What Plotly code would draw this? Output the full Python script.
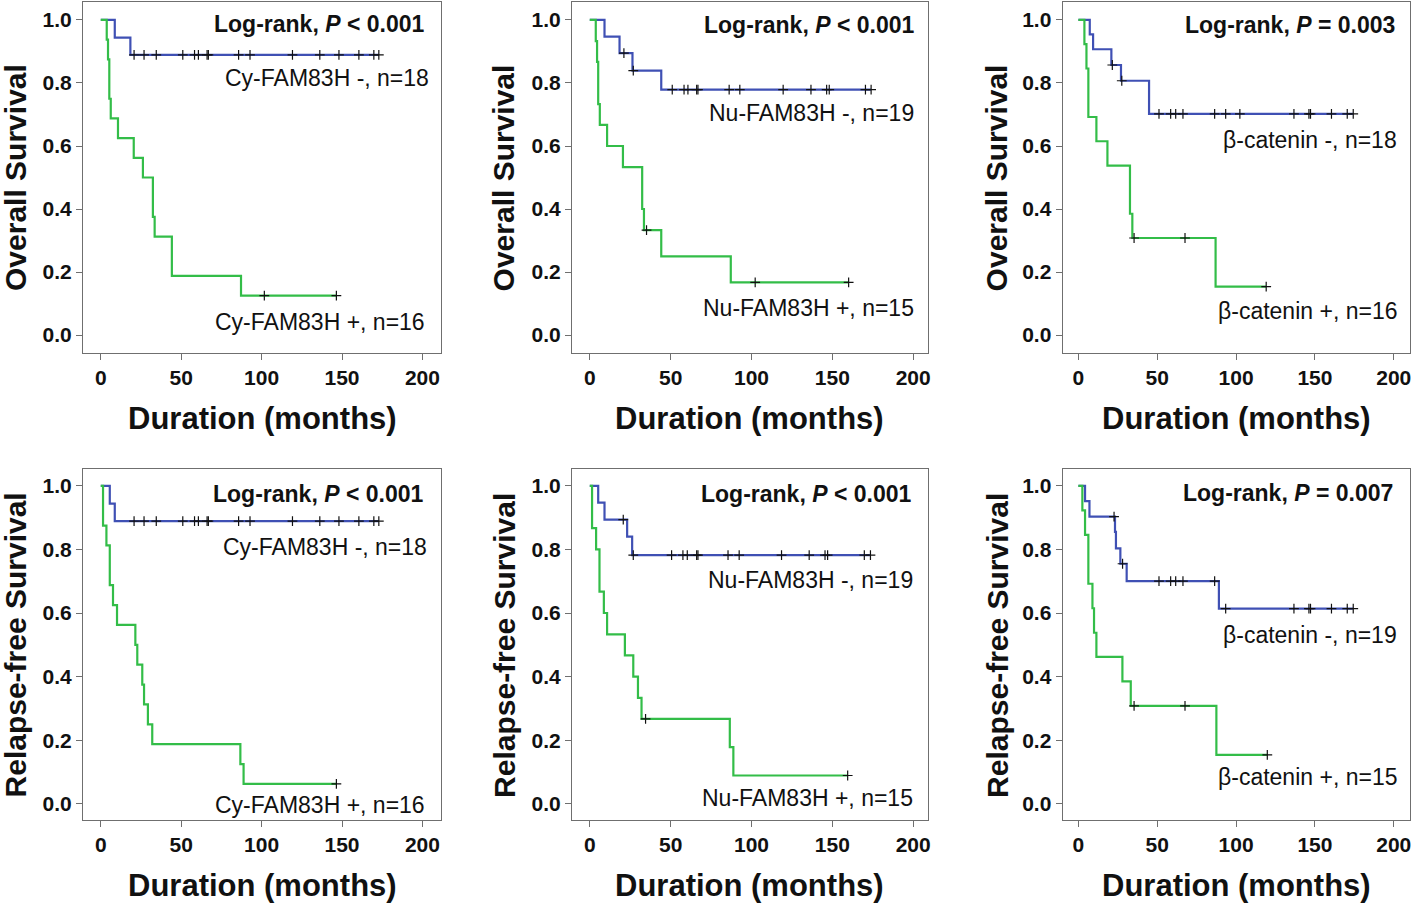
import numpy as np
import plotly.graph_objects as go

W, H = 1418, 904

# ---------------- data (months, survival) ----------------
# Panel 1: Overall survival, Cy-FAM83H
os_cy_neg_t = [0, 8.7, 18.4]
os_cy_neg_s = [1.0, 0.944, 0.889]
os_cy_neg_c = [20.7, 26.9, 34.5, 51.0, 58.3, 60.7, 66.1, 66.9, 85.7, 92.8,
               119.2, 136.2, 148.1, 160.5, 169.8, 172.9]
os_cy_pos_t = [0, 3.7, 4.5, 5.3, 6.2, 10.7, 20.5, 26.2, 32.4, 33.5, 44.2, 87.2]
os_cy_pos_s = [1.0, 0.9375, 0.875, 0.75, 0.6875, 0.625, 0.5625, 0.5, 0.375,
               0.3125, 0.1875, 0.125]
os_cy_pos_c = [101.7, 146.5]

# Panel 2: Overall survival, Nu-FAM83H
os_nu_neg_t = [0, 9.1, 18.4, 26.4, 44.2]
os_nu_neg_s = [1.0, 0.947, 0.895, 0.839, 0.779]
os_nu_neg_c = [21.1, 26.9, 51.0, 58.3, 60.7, 66.1, 66.9, 86.2, 92.8, 119.6,
               136.8, 146.5, 148.1, 170.5, 174.0]
os_nu_pos_t = [0, 3.7, 4.5, 5.2, 6.2, 10.7, 20.5, 32.4, 33.5, 44.2, 87.2]
os_nu_pos_s = [1.0, 0.933, 0.867, 0.733, 0.667, 0.6, 0.533, 0.4, 0.333, 0.25, 0.167]
os_nu_pos_c = [35.1, 102.3, 160.1]

# Panel 3: Overall survival, beta-catenin
os_bc_neg_t = [0, 7.2, 9.3, 20.9, 27.0, 44.8]
os_bc_neg_s = [1.0, 0.954, 0.907, 0.857, 0.807, 0.702]
os_bc_neg_c = [21.5, 27.5, 51.1, 58.5, 61.7, 66.3, 86.4, 93.4, 102.4, 136.7,
               146.2, 147.2, 160.5, 170.5, 174.3]
os_bc_pos_t = [0, 3.8, 5.1, 6.3, 11.4, 18.4, 32.7, 34.2, 87.0]
os_bc_pos_s = [1.0, 0.923, 0.846, 0.692, 0.615, 0.538, 0.385, 0.308, 0.154]
os_bc_pos_c = [35.3, 67.6, 119.1]

# Panel 4: Relapse-free survival, Cy-FAM83H
rfs_cy_neg_t = [0, 5.6, 8.7]
rfs_cy_neg_s = [1.0, 0.944, 0.889]
rfs_cy_neg_c = [20.7, 26.9, 34.5, 51.0, 58.3, 60.7, 66.1, 66.9, 85.7, 92.8,
                119.2, 136.2, 148.1, 160.5, 169.8, 172.9]
rfs_cy_pos_t = [0, 1.4, 3.5, 5.6, 7.6, 10.1, 21.5, 22.7, 25.8, 26.9, 29.3, 32.0,
                86.8, 88.8]
rfs_cy_pos_s = [1.0, 0.875, 0.8125, 0.6875, 0.625, 0.5625, 0.5, 0.4375, 0.375,
                0.3125, 0.25, 0.1875, 0.125, 0.0625]
rfs_cy_pos_c = [146.5]

# Panel 5: Relapse-free survival, Nu-FAM83H
rfs_nu_neg_t = [0, 5.2, 9.1, 23.1, 26.2]
rfs_nu_neg_s = [1.0, 0.947, 0.894, 0.840, 0.782]
rfs_nu_neg_c = [20.7, 26.9, 50.6, 57.6, 60.3, 66.1, 66.9, 85.5, 92.4, 118.6,
                135.7, 145.5, 147.1, 169.8, 173.6]
rfs_nu_pos_t = [0, 1.4, 3.9, 6.0, 8.7, 10.7, 21.7, 26.9, 29.8, 32.0, 86.6, 88.8]
rfs_nu_pos_s = [1.0, 0.867, 0.8, 0.667, 0.6, 0.533, 0.467, 0.4, 0.333, 0.267,
                0.178, 0.089]
rfs_nu_pos_c = [34.5, 159.5]

# Panel 6: Relapse-free survival, beta-catenin
rfs_bc_neg_t = [0, 4.2, 7.0, 23.2, 23.8, 26.6, 30.6, 89.1]
rfs_bc_neg_s = [1.0, 0.952, 0.903, 0.855, 0.803, 0.755, 0.700, 0.614]
rfs_bc_neg_c = [22.6, 28.0, 51.1, 58.5, 61.7, 66.3, 86.4, 93.4, 136.7, 146.2,
                147.2, 160.5, 170.5, 174.3]
rfs_bc_pos_t = [0, 2.5, 4.2, 6.3, 8.9, 9.9, 11.4, 27.9, 33.2, 87.5]
rfs_bc_pos_s = [1.0, 0.923, 0.846, 0.692, 0.615, 0.538, 0.462, 0.385, 0.308, 0.154]
rfs_bc_pos_c = [35.3, 67.6, 119.8]

pvals = ["&lt; 0.001", "&lt; 0.001", "= 0.003", "&lt; 0.001", "&lt; 0.001", "= 0.007"]
neg_labels = ["Cy-FAM83H -, n=18", "Nu-FAM83H -, n=19", "β-catenin -, n=18",
              "Cy-FAM83H -, n=18", "Nu-FAM83H -, n=19", "β-catenin -, n=19"]
pos_labels = ["Cy-FAM83H +, n=16", "Nu-FAM83H +, n=15", "β-catenin +, n=16",
              "Cy-FAM83H +, n=16", "Nu-FAM83H +, n=15", "β-catenin +, n=15"]
y_titles = ["Overall Survival", "Relapse-free Survival"]
x_title = "Duration (months)"
x_ticks = [0, 50, 100, 150, 200]
y_ticks = [0.0, 0.2, 0.4, 0.6, 0.8, 1.0]

panels = [
    (os_cy_neg_t, os_cy_neg_s, os_cy_neg_c, os_cy_pos_t, os_cy_pos_s, os_cy_pos_c),
    (os_nu_neg_t, os_nu_neg_s, os_nu_neg_c, os_nu_pos_t, os_nu_pos_s, os_nu_pos_c),
    (os_bc_neg_t, os_bc_neg_s, os_bc_neg_c, os_bc_pos_t, os_bc_pos_s, os_bc_pos_c),
    (rfs_cy_neg_t, rfs_cy_neg_s, rfs_cy_neg_c, rfs_cy_pos_t, rfs_cy_pos_s, rfs_cy_pos_c),
    (rfs_nu_neg_t, rfs_nu_neg_s, rfs_nu_neg_c, rfs_nu_pos_t, rfs_nu_pos_s, rfs_nu_pos_c),
    (rfs_bc_neg_t, rfs_bc_neg_s, rfs_bc_neg_c, rfs_bc_pos_t, rfs_bc_pos_s, rfs_bc_pos_c),
]

# ---------------- layout geometry (pixels) ----------------
cols_px = [(83.3, 442.0), (573.3, 929.5), (1065.0, 1413.3)]
rows_px = [(2.0, 352.7), (469.3, 820.0)]
x_ranges = [[-10.98, 211.6], [-10.95, 208.9], [-9.94, 210.5]]
y_ranges = [[-0.056, 1.057], [-0.051, 1.052]]

BLUE = "#3f50b4"
GREEN = "#33bd48"
FRAME = "#6f6f6f"
FONT = "Liberation Sans, Arial, sans-serif"


def px(x):
    return x / W


def py(y):
    return 1 - y / H


def step_at(t, s, c):
    t = np.asarray(t, float)
    s = np.asarray(s, float)
    idx = np.searchsorted(t, np.asarray(c, float), side="right") - 1
    return s[idx]


fig = go.Figure()
layout = {}
annotations = []

for i, (nt, ns, nc, pt, ps, pc) in enumerate(panels):
    r, col = divmod(i, 3)
    sfx = "" if i == 0 else str(i + 1)
    xa, ya = "x" + sfx, "y" + sfx

    for t, s, c, color in ((nt, ns, nc, BLUE), (pt, ps, pc, GREEN)):
        tx = list(t)
        sy = list(s)
        if len(c) and max(c) > tx[-1]:
            tx.append(max(c))
            sy.append(sy[-1])
        fig.add_trace(go.Scatter(
            x=tx, y=sy, mode="lines", line=dict(color=color, width=2.2, shape="hv"),
            xaxis=xa, yaxis=ya, showlegend=False, hoverinfo="skip"))
    for t, s, c in ((nt, ns, nc), (pt, ps, pc)):
        fig.add_trace(go.Scatter(
            x=c, y=step_at(t, s, c), mode="markers",
            marker=dict(symbol="cross-thin", size=7, line=dict(color="#111111", width=1.2)),
            xaxis=xa, yaxis=ya, showlegend=False, hoverinfo="skip"))

    x0, x1 = cols_px[col]
    y0, y1 = rows_px[r]
    axis_common = dict(showline=True, mirror=True, linecolor=FRAME, linewidth=1.3,
                       ticks="outside", ticklen=6, tickwidth=1.3, tickcolor=FRAME,
                       showgrid=False, zeroline=False, fixedrange=True,
                       tickfont=dict(family=FONT, size=21, color="#111111", weight="bold"))
    layout["xaxis" + sfx] = dict(axis_common, domain=[px(x0), px(x1)], range=x_ranges[col],
                                 tickvals=x_ticks, anchor=ya)
    layout["yaxis" + sfx] = dict(axis_common, domain=[py(y1), py(y0)], range=y_ranges[r],
                                 tickvals=y_ticks, tickformat=".1f", anchor=xa)

# text annotations (pixel positions)
logrank_pos = [(426.7, 24), (918.3, 25.5), (1400, 25), (425.7, 494), (915, 494), (1398.3, 493)]
neg_pos = [(431.7, 78), (918.3, 113), (1401.7, 139.5), (430, 546.5), (916.7, 580), (1401.7, 634.5)]
pos_pos = [(428.3, 321.5), (918.3, 308), (1401.7, 311.5), (428.3, 804.5), (916.7, 798), (1401.7, 776.5)]

for i in range(6):
    annotations.append(dict(x=px(logrank_pos[i][0]), y=py(logrank_pos[i][1]), xref="paper", yref="paper",
                            text="<b>Log-rank, <i>P</i> " + pvals[i] + "</b>", showarrow=False,
                            xanchor="right", yanchor="middle",
                            font=dict(family=FONT, size=23, color="#111111")))
    annotations.append(dict(x=px(neg_pos[i][0]), y=py(neg_pos[i][1]), xref="paper", yref="paper",
                            text=neg_labels[i], showarrow=False, xanchor="right", yanchor="middle",
                            font=dict(family=FONT, size=23, color="#111111")))
    annotations.append(dict(x=px(pos_pos[i][0]), y=py(pos_pos[i][1]), xref="paper", yref="paper",
                            text=pos_labels[i], showarrow=False, xanchor="right", yanchor="middle",
                            font=dict(family=FONT, size=23, color="#111111")))

ytitle_x = [15.5, 505, 999]
ytitle_y = [177.5, 645]
xtitle_y = [418, 885]
for r in range(2):
    for col in range(3):
        annotations.append(dict(x=px(ytitle_x[col]), y=py(ytitle_y[r]), xref="paper", yref="paper",
                                text="<b>" + y_titles[r] + "</b>", showarrow=False, textangle=-90,
                                xanchor="center", yanchor="middle",
                                font=dict(family=FONT, size=30, color="#111111")))
        cx = (cols_px[col][0] + cols_px[col][1]) / 2
        annotations.append(dict(x=px(cx), y=py(xtitle_y[r]), xref="paper", yref="paper",
                                text="<b>" + x_title + "</b>", showarrow=False,
                                xanchor="center", yanchor="middle",
                                font=dict(family=FONT, size=31, color="#111111")))

fig.update_layout(width=W, height=H, margin=dict(l=0, r=0, t=0, b=0),
                  paper_bgcolor="white", plot_bgcolor="white",
                  annotations=annotations, **layout)

fig.write_html("out.html", config={"displayModeBar": False},
               post_script="document.body.style.margin='0';document.body.style.overflow='hidden';")
